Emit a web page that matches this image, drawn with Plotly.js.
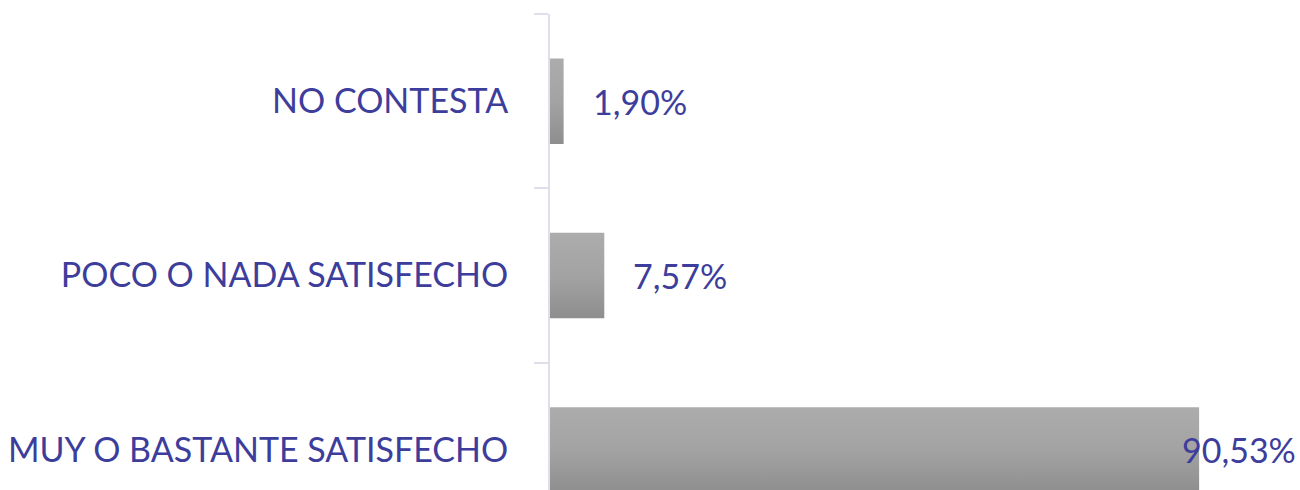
<!DOCTYPE html>
<html><head><meta charset="utf-8">
<script src="https://cdn.plot.ly/plotly-3.0.1.min.js"></script>
<style>html,body{margin:0;padding:0;background:#fff}#chart{width:1300px;height:490px}</style>
</head><body><div id="chart"></div>
<script>
const categories = ["MUY O BASTANTE SATISFECHO", "POCO O NADA SATISFECHO", "NO CONTESTA"];
const values = [90.53, 7.57, 1.90];
const labels = ["90,53%", "7,57%", "1,90%"];
const labelShift = [-19, 27, 27];

const txtColor = "#3d3d9c";
const fontFam = "Lato, 'Open Sans', sans-serif";

const trace = {
  type: "bar", orientation: "h",
  y: categories, x: values,
  marker: {color: "#a0a0a0", line: {width: 0}},
  width: 0.49, hoverinfo: "none"
};
const annotations = values.map((v, i) => ({
  x: v, y: categories[i], xref: "x", yref: "y",
  text: labels[i], showarrow: false, xanchor: "left", yanchor: "middle",
  xshift: labelShift[i], font: {family: fontFam, size: 34, color: txtColor}
}));
const layout = {
  width: 1300, height: 490,
  margin: {l: 550, r: 0, t: 14, b: 0},
  paper_bgcolor: "#fff", plot_bgcolor: "#fff",
  showlegend: false,
  xaxis: {range: [0, 104.6], visible: false, fixedrange: true},
  yaxis: {
    type: "category", range: [-0.23, 2.5],
    showline: true, linecolor: "#dde0ea", linewidth: 2,
    ticks: "outside", ticklen: 14, tickcolor: "#dde0ea", tickwidth: 2,
    tickson: "boundaries", showgrid: false, zeroline: false,
    ticklabelstandoff: 33,
    tickfont: {family: fontFam, size: 34, color: txtColor}
  },
  annotations: annotations
};
Plotly.newPlot("chart", [trace], layout, {staticPlot: true, displayModeBar: false}).then(gd => {
  const svg = gd.querySelector("svg.main-svg");
  const ns = "http://www.w3.org/2000/svg";
  let defs = svg.querySelector("defs");
  const grad = document.createElementNS(ns, "linearGradient");
  grad.setAttribute("id", "barGrad");
  grad.setAttribute("x1", "0"); grad.setAttribute("y1", "0");
  grad.setAttribute("x2", "0"); grad.setAttribute("y2", "1");
  [["0", "#acacac"], ["0.5", "#a3a3a3"], ["1", "#8e8e8e"]].forEach(([o, c]) => {
    const s = document.createElementNS(ns, "stop");
    s.setAttribute("offset", o); s.setAttribute("stop-color", c);
    grad.appendChild(s);
  });
  defs.appendChild(grad);
  gd.querySelectorAll(".barlayer .point path").forEach(p => {
    p.style.fill = "url(#barGrad)";
  });
});
</script></body></html>
